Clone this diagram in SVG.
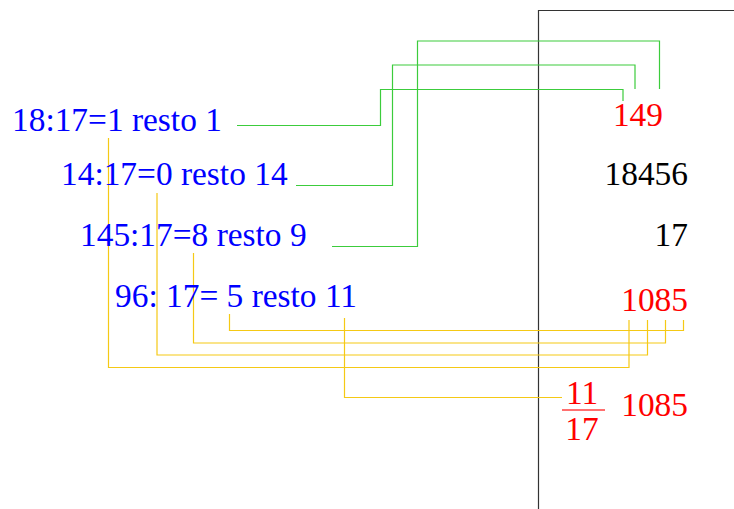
<svg xmlns="http://www.w3.org/2000/svg" width="734" height="509" viewBox="0 0 734 509">
<style>
text{font-family:"Liberation Serif","Times New Roman",serif;font-size:33.4px}
.b{fill:#0000ff}
.r{fill:#ff0000}
.k{fill:#000}
.g{fill:none;stroke:#3ccc3c;stroke-width:1.2}
.y{fill:none;stroke:#f5c915;stroke-width:1.2}
</style>
<rect width="734" height="509" fill="#fff"/>
<g id="frame"><path d="M538.5,509 V10.5 H734" fill="none" stroke="#333" stroke-width="1.2"/></g>
<g id="connectors">
<path class="g" d="M237,125.5 H380.5 V89.5 H623 V101"/>
<path class="g" d="M296,185.5 H392.5 V65 H635 V89"/>
<path class="g" d="M332,246.5 H417.5 V41 H659.5 V89"/>
<path class="y" d="M229.5,314 V330.5 H683.5 V320"/>
<path class="y" d="M193.5,253 V343 H665.5 V320"/>
<path class="y" d="M157,193 V355 H647.5 V320"/>
<path class="y" d="M108.5,138 V367.5 H629 V320"/>
<path class="y" d="M344.5,318 V397.5 H562"/>
</g>
<g id="n1"><text class="b" x="12" y="131">18:17=1 resto 1</text></g>
<g id="n2"><text class="b" x="61" y="185">14:17=0 resto 14</text></g>
<g id="n3"><text class="b" x="80" y="246">145:17=8 resto 9</text></g>
<g id="n4"><text class="b" x="115" y="307">96: 17= 5 resto 11</text></g>
<g id="q149"><text class="r" x="663" y="126" text-anchor="end">149</text></g>
<g id="dividend"><text class="k" x="688" y="185" text-anchor="end">18456</text></g>
<g id="divisor"><text class="k" x="688" y="246" text-anchor="end">17</text></g>
<g id="q1085"><text class="r" x="688" y="311" text-anchor="end">1085</text></g>
<g id="result">
<text class="r" x="582" y="404" text-anchor="middle">11</text>
<line x1="562" y1="410" x2="605" y2="410" stroke="#ff4040" stroke-width="1.5"/>
<text class="r" x="582" y="440" text-anchor="middle">17</text>
<text class="r" x="688" y="416" text-anchor="end">1085</text>
</g>
</svg>
